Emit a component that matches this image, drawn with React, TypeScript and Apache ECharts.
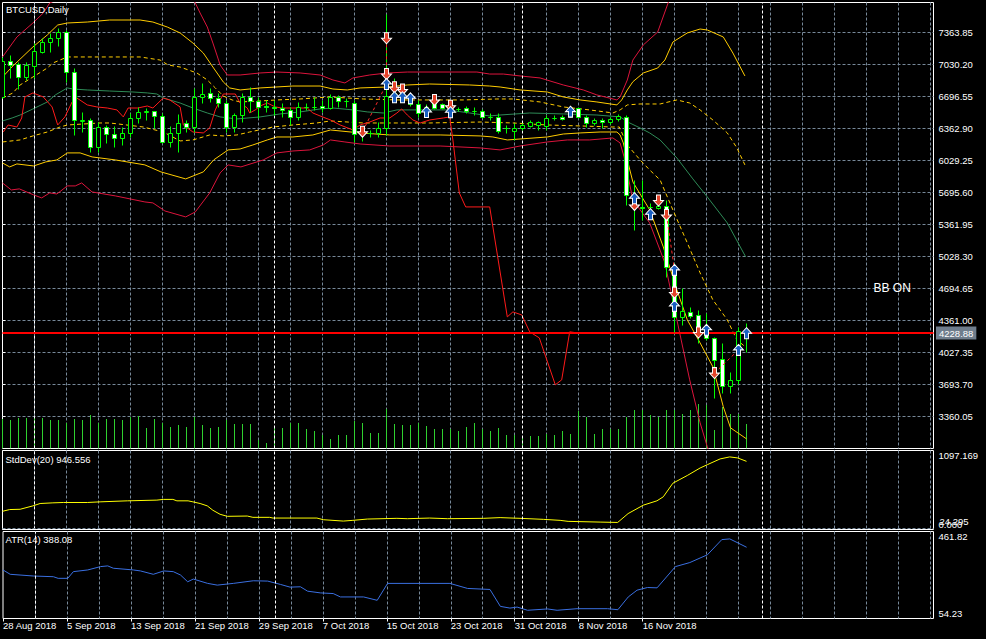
import React, { useEffect, useRef } from 'react';
import * as echarts from 'echarts';

const FONT = "'Liberation Sans', Arial, Helvetica, sans-serif";

// ---- price axis (ticks 3360.05 ... 7363.85, step 333.65; ticks are counted from min) ----
const PRICE_STEP = 333.65;
const PRICE_MIN = 3026.4;
const PRICE_MAX = 7674.5;
const X_MAX = 931 / 8; // days visible across the plot width
const VOL_MAX = 44600;
const STD_MAX = 1097.169;
const ATR_MIN = 54.23;
const ATR_MAX = 461.82;
const STD_LEVEL = 24.295;
const STD_LEVEL_LABEL_AT = 115; // where the level's text sits, just above its line
const LAST_PRICE = 4228.88;

// ---- x axis ----
const DATE_LABELS = ['28 Aug 2018', '5 Sep 2018', '13 Sep 2018', '21 Sep 2018', '29 Sep 2018', '7 Oct 2018',
  '15 Oct 2018', '23 Oct 2018', '31 Oct 2018', '8 Nov 2018', '16 Nov 2018', '24 Nov 2018'];
const LABEL_DAYS = DATE_LABELS.map((_, k) => k * 8);
const MONTH_STARTS = [4, 34, 65, 95];

// ---- daily candles, 28 Aug 2018 (index 0) .. 29 Nov 2018 (index 93) ----
const OPEN = [6690, 7065, 7034, 6898, 7013, 7159, 7263, 7305, 7367, 6950,
  6440, 6455, 6169, 6377, 6304, 6263, 6315, 6471, 6534, 6540,
  6492, 6221, 6315, 6419, 6377, 6690, 6731, 6679, 6627, 6377,
  6502, 6690, 6648, 6596, 6590, 6575, 6555, 6482, 6586, 6590,
  6596, 6575, 6690, 6648, 6627, 6304, 6310, 6315, 6367, 6700,
  6735, 6690, 6617, 6586, 6627, 6617, 6565, 6565, 6575, 6544,
  6544, 6482, 6482, 6367, 6336, 6367, 6388, 6395, 6388, 6471,
  6482, 6523, 6575, 6482, 6419, 6450, 6430, 6461, 6482, 5669,
  5545, 5540, 5533, 5554, 4919, 4398, 4450, 4419, 4283, 4179,
  3960, 3679, 3742, 4235];
const HIGH = [7110, 7127, 7055, 7055, 7252, 7305, 7356, 7409, 7388, 6992,
  6534, 6471, 6430, 6398, 6388, 6377, 6523, 6586, 6575, 6545,
  6523, 6388, 6513, 6450, 6784, 6836, 6784, 6731, 6659, 6523,
  6731, 6794, 6690, 6659, 6659, 6627, 6586, 6638, 6627, 6690,
  6659, 6720, 6711, 6680, 6659, 6340, 6346, 6430, 7554, 6888,
  6790, 6710, 6659, 6617, 6648, 6630, 6590, 6590, 6600, 6586,
  6560, 6523, 6523, 6398, 6419, 6419, 6450, 6440, 6502, 6500,
  6500, 6575, 6586, 6502, 6470, 6471, 6480, 6510, 6500, 5825,
  5825, 5585, 5570, 5617, 4961, 4700, 4502, 4471, 4440, 4190,
  4127, 3825, 4294, 4335];
const LOW = [6680, 6888, 6770, 6867, 6888, 7150, 7159, 7221, 6846, 6294,
  6325, 6117, 6117, 6211, 6169, 6190, 6273, 6419, 6450, 6367,
  6210, 6169, 6117, 6325, 6325, 6627, 6638, 6586, 6325, 6325,
  6429, 6534, 6471, 6534, 6502, 6482, 6398, 6450, 6555, 6555,
  6534, 6560, 6586, 6586, 6221, 6230, 6273, 6273, 6294, 6659,
  6640, 6600, 6482, 6502, 6560, 6560, 6545, 6540, 6520, 6502,
  6470, 6450, 6315, 6315, 6242, 6346, 6377, 6350, 6346, 6450,
  6450, 6482, 6471, 6377, 6400, 6367, 6410, 6440, 5565, 5304,
  5408, 5480, 5520, 4815, 4242, 4315, 4390, 4127, 4158, 3554,
  3606, 3606, 3700, 4033];
const CLOSE = [7065, 7023, 6898, 7023, 7169, 7263, 7305, 7367, 6950, 6450,
  6446, 6169, 6377, 6304, 6263, 6315, 6471, 6534, 6540, 6492,
  6221, 6315, 6419, 6377, 6690, 6721, 6679, 6627, 6377, 6502,
  6690, 6648, 6586, 6586, 6575, 6555, 6482, 6586, 6590, 6586,
  6575, 6690, 6648, 6645, 6304, 6310, 6315, 6367, 6700, 6735,
  6659, 6617, 6523, 6590, 6575, 6575, 6565, 6560, 6544, 6540,
  6482, 6480, 6336, 6365, 6367, 6398, 6430, 6430, 6471, 6475,
  6461, 6520, 6482, 6419, 6450, 6430, 6461, 6492, 5669, 5600,
  5535, 5545, 5554, 4919, 4398, 4461, 4409, 4210, 4179, 3950,
  3679, 3742, 4252, 4228.88];
const VOLUME = [3000, 2850, 3100, 3100, 3250, 3100, 2850, 2850, 2600, 3000,
  2850, 3400, 2600, 3000, 2950, 2850, 3200, 3250, 2100, 2950,
  2600, 2200, 2350, 2200, 3200, 2350, 2100, 2200, 2850, 2500,
  2500, 2500, 850, 600, 2200, 2100, 2600, 2600, 1950, 1750,
  1400, 950, 1400, 1400, 2750, 2600, 1600, 1600, 4000, 2500,
  2400, 2400, 2600, 2250, 1950, 1950, 1950, 1750, 2200, 2600,
  1950, 1750, 2100, 1400, 1400, 1200, 1300, 1300, 1500, 1350,
  1750, 1500, 3750, 3200, 1500, 2000, 2000, 2000, 3200, 3850,
  3850, 3400, 3200, 3850, 3850, 3500, 3850, 4500, 4400, 1850,
  4200, 3500, 3500, 2500];

// ---- indicator lines: [day, value] ----
const BB_MID = [[0, 6440], [1.2, 6471], [2.2, 6502], [3.8, 6565], [5.6, 6638], [6.6, 6711], [8.1, 6784], [8.8, 6773], [10.6, 6763], [13.4, 6752], [16.3, 6742], [18.1, 6732], [19.3, 6721], [20.1, 6679], [22.2, 6627], [23.8, 6575], [25.6, 6523], [27.2, 6482], [29.3, 6461], [32.2, 6482], [34.7, 6513], [37.2, 6534], [39.7, 6565], [41.3, 6575], [43.8, 6555], [45.6, 6534], [47.6, 6523], [49.3, 6555], [52.2, 6555], [55.6, 6555], [58.4, 6523], [60.9, 6492], [62.2, 6502], [65.9, 6523], [70.1, 6513], [74.3, 6502], [77.2, 6482], [78.4, 6419], [79.7, 6367], [80.9, 6315], [82.2, 6242], [84.3, 6054], [86.3, 5836], [88.1, 5648], [90.6, 5377], [92.9, 5023]];
const BB2_UP = [[0, 6898], [1.3, 7013], [3.8, 7211], [5.6, 7336], [6.9, 7440], [8.1, 7461], [10.6, 7471], [13.4, 7492], [17.2, 7492], [18.8, 7471], [20.6, 7419], [22.2, 7357], [23.8, 7252], [25.1, 7148], [26.3, 7002], [27.6, 6846], [28.4, 6784], [29.7, 6763], [32.2, 6784], [36.3, 6804], [39.7, 6804], [41.3, 6773], [43.1, 6763], [44.7, 6784], [48.1, 6794], [50.6, 6815], [53.4, 6825], [58.4, 6815], [60.9, 6804], [62.2, 6794], [64.7, 6763], [68.1, 6742], [70.1, 6690], [72.2, 6659], [74.3, 6638], [76.8, 6607], [77.4, 6659], [78.1, 6763], [78.8, 6849], [80.1, 6940], [81.9, 6992], [82.8, 7075], [83.8, 7263], [85.6, 7357], [87.2, 7398], [88.1, 7388], [90.1, 7315], [91.3, 7148], [92.8, 6909]];
const BB2_DN = [[0, 6002], [0.9, 5961], [1.8, 5992], [3.9, 5971], [5.4, 6013], [6.8, 6034], [8.1, 6107], [9.7, 6107], [11.2, 6065], [14.1, 6034], [17.8, 5982], [19.8, 5909], [22.9, 5836], [25.1, 5909], [26.4, 6034], [28.2, 6138], [29.7, 6148], [31.3, 6190], [33.1, 6242], [34.3, 6273], [36.3, 6273], [38.8, 6294], [41, 6346], [44.7, 6315], [48.4, 6294], [54.7, 6294], [59.7, 6284], [61.3, 6273], [63.1, 6242], [64.7, 6252], [68.1, 6273], [70.1, 6304], [72.2, 6315], [74.7, 6325], [76.8, 6325], [77.2, 6294], [77.6, 6211], [78.1, 6034], [78.8, 5804], [80.9, 5513], [82.6, 5127], [84.3, 4679], [85.6, 4367], [87.2, 4127], [88.8, 3877], [90.1, 3461], [91, 3242], [93, 3127]];
const BB1_UP = [[0, 6679], [1.3, 6732], [2.2, 6815], [3.8, 6898], [5.6, 6992], [6.3, 7044], [8.1, 7107], [10.6, 7107], [13.4, 7107], [17.2, 7107], [19.7, 7075], [20.7, 7023], [22.2, 7002], [24.3, 6940], [25.6, 6867], [26.6, 6784], [27.6, 6700], [28.7, 6659], [29.7, 6638], [32.2, 6648], [34.3, 6659], [37.2, 6669], [41, 6690], [45.1, 6669], [49.3, 6659], [57.6, 6659], [61.8, 6669], [63.8, 6669], [67.2, 6638], [70.1, 6586], [73.4, 6555], [76.3, 6523], [77.2, 6555], [78.1, 6607], [79.7, 6617], [82.2, 6617], [84.3, 6659], [85.9, 6627], [87.2, 6555], [88.8, 6450], [90.6, 6315], [91.8, 6159], [92.8, 5982]];
const BB1_DN = [[0, 6221], [2.2, 6242], [3.8, 6284], [5.6, 6325], [7.2, 6377], [8.1, 6398], [12.2, 6419], [13.4, 6419], [17.6, 6377], [20.1, 6325], [22.2, 6232], [23.8, 6242], [25.9, 6294], [27.6, 6284], [29.3, 6294], [30.9, 6325], [33.8, 6377], [36.3, 6398], [39.3, 6419], [41, 6440], [45.1, 6419], [49.3, 6419], [53.4, 6419], [59.7, 6429], [63.8, 6419], [68.1, 6398], [72.2, 6388], [76.3, 6377], [77.1, 6377], [78.1, 6190], [79.7, 6034], [80.9, 5929], [82.2, 5825], [83.8, 5513], [85.6, 5169], [87.2, 4857], [88.8, 4575], [90.6, 4367], [91.8, 4159], [93, 4075]];
const BB3_UP = [[0, 7107], [1.8, 7315], [3.8, 7461], [5.1, 7565], [5.9, 7669], [12.2, 7910], [18.4, 7930], [23.4, 7750], [24.1, 7669], [24.7, 7565], [25.6, 7419], [26.3, 7252], [26.8, 7127], [27.2, 7023], [28.1, 6919], [29.7, 6919], [32.2, 6940], [34.3, 6950], [37.2, 6940], [39.7, 6919], [41.3, 6867], [42.8, 6836], [43.8, 6888], [45.9, 6919], [48.1, 6940], [50.6, 6950], [59.3, 6950], [60.9, 6929], [62.6, 6929], [64.7, 6909], [67.2, 6888], [70.1, 6815], [72.6, 6763], [74.3, 6711], [76.8, 6659], [77.2, 6690], [78.1, 6867], [78.8, 7075], [80.1, 7232], [81.9, 7367], [83.2, 7669], [84.7, 8013], [89.7, 8325], [92.9, 8117]];
const BB3_DN = [[0, 5794], [1.1, 5721], [2.1, 5732], [3.9, 5669], [4.9, 5638], [5.9, 5690], [6.8, 5679], [8.1, 5763], [9.1, 5763], [9.9, 5794], [11.2, 5700], [14.1, 5659], [17.8, 5596], [18.8, 5586], [20.3, 5502], [22.9, 5440], [24.1, 5492], [25.9, 5690], [27.2, 5898], [28.2, 5982], [29.8, 5961], [32.6, 6034], [34.3, 6107], [36.3, 6127], [38.4, 6138], [40.1, 6190], [41, 6242], [42.8, 6221], [44.7, 6200], [48.4, 6179], [54.7, 6179], [59.7, 6159], [62.2, 6138], [64.7, 6179], [68.1, 6221], [70.6, 6242], [73.4, 6242], [76.3, 6263], [77.2, 6211], [77.7, 6065], [78.8, 5617], [80.9, 5377], [82.8, 4961], [84.3, 4367], [85.9, 3742], [87.2, 3294], [88.1, 3044], [89.7, 2700], [92.9, 2183]];
const RED_LINE = [[0.1, 6325], [0.7, 6398], [1.8, 6377], [2.4, 6471], [2.8, 6690], [3.8, 6732], [5.1, 6690], [6.2, 6586], [6.9, 6398], [7.8, 6482], [8.7, 6638], [9.3, 6679], [10.6, 6607], [11.8, 6586], [13.1, 6575], [14.3, 6555], [15.1, 6482], [15.7, 6575], [16.9, 6575], [18.1, 6596], [18.8, 6575], [20.1, 6679], [20.9, 6659], [22.2, 6586], [22.6, 6398], [23.8, 6325], [25.1, 6315], [25.9, 6367], [26.6, 6555], [27.2, 6659], [27.6, 6721], [29.1, 6721], [29.7, 6627], [30.6, 6575], [30.9, 6523], [31.6, 6555], [32.2, 6596], [33.1, 6627], [34.1, 6586], [34.9, 6575], [36.3, 6575], [38.1, 6575], [38.8, 6523], [39.7, 6492], [41, 6450], [42.2, 6398], [43.8, 6346], [44.7, 6398], [45.9, 6429], [47.2, 6471], [48.4, 6471], [49.3, 6523], [49.9, 6565], [50.6, 6502], [51.3, 6450], [52.2, 6419], [53.4, 6450], [55.1, 6471], [55.9, 6482], [56.3, 6242], [56.6, 6034], [57.1, 5690], [57.9, 5544], [60.9, 5544], [63.1, 4398], [63.8, 4450], [64.9, 4419], [65.9, 4242], [67.1, 4179], [69.1, 3690], [69.9, 3742], [70.9, 4242], [71.9, 4231]];
const STDDEV = [[0, 253], [0.9, 277], [2.2, 281], [3.8, 328], [4.7, 361], [6.3, 370], [7.6, 375], [10.6, 375], [12.2, 384], [15.6, 398], [19.3, 408], [20.1, 418], [21.3, 418], [21.8, 398], [23.2, 398], [23.8, 384], [24.7, 361], [25.6, 328], [26.3, 267], [27.2, 211], [28.1, 183], [30.6, 187], [31.3, 169], [33.4, 169], [33.8, 159], [39.3, 159], [40.1, 136], [42.6, 117], [43.8, 127], [45.6, 145], [49.3, 155], [50.6, 150], [53.4, 159], [55.6, 150], [60.1, 155], [62.2, 165], [64.7, 155], [67.6, 141], [69.7, 127], [70.7, 113], [74.7, 103], [76.9, 98], [78.2, 221], [80.1, 338], [81.8, 398], [82.6, 454], [83.8, 643], [85.6, 750], [87.2, 854], [88.1, 900], [89.7, 980], [90.9, 1008], [91.9, 994], [93, 946.556]];
const ATR = [[0, 281.7], [0.9, 261.3], [3.8, 253.3], [6.3, 250], [6.9, 242.4], [8.1, 242.4], [8.8, 273.7], [10.6, 281.7], [12.2, 297.4], [13.1, 300.7], [13.8, 289.7], [16.3, 281.7], [17.2, 277], [18.8, 261.3], [20.1, 277], [21.3, 273.7], [22.2, 258], [23.1, 226.3], [23.8, 239], [25.6, 218.7], [26.8, 210.6], [28.8, 218.7], [31.3, 231], [33.1, 229.5], [34.7, 213.9], [35.9, 201.2], [37.2, 202.8], [38.1, 182.2], [39.7, 174.2], [41.3, 171.1], [42.2, 155.2], [45.1, 155.2], [46.8, 139.5], [48.1, 218.7], [55.9, 218.7], [58.1, 195], [60.9, 190.3], [62.2, 111.1], [63.4, 103], [64.3, 107.8], [65.6, 92.8], [68.1, 99], [69.3, 92.8], [71.8, 100.2], [75.6, 100.2], [76.9, 95.4], [78.2, 155.2], [79.3, 186.9], [80.6, 199.4], [81.8, 197.8], [84.1, 297.4], [85.9, 316.3], [88.1, 352.8], [89.9, 423.9], [90.9, 427.1], [93, 388.08]];

// ---- trade markers [day, price] ----
const SELLS = [[48, 7301], [48, 6929], [49, 6791], [50, 6768], [54, 6659], [56, 6599], [45, 6328], [79, 5565], [82, 5610], [83, 5460], [84, 4651], [87, 4235], [89, 3812]];
const BUYS = [[48, 6825], [49, 6687], [50, 6687], [51, 6676], [53, 6534], [56, 6531], [71, 6537], [79, 5635], [81, 5468], [84, 4888], [84, 4513], [88, 4263], [92, 4054], [93, 4228]];
const TRADE_LINES = [[45, 6328, 48, 6825], [48, 7301, 48, 6929], [83, 5460, 84, 4888], [89, 3812, 92, 4054]];

const GRID_COLOR = '#778899';

function buildOption(): any {
  const gridSplit = { show: true, showMinLine: false, showMaxLine: false, lineStyle: { color: GRID_COLOR, type: [3, 2], width: 1 } };
  const xBase = (gridIndex: number) => ({
    type: 'value', gridIndex, min: 0, max: X_MAX, interval: 4,
    axisLine: { show: false }, axisTick: { show: false }, axisLabel: { show: false },
    splitLine: gridSplit,
  });
  const tickStyle = { show: true, length: 3, lineStyle: { color: '#ffffff', width: 1 } };
  const labelBase = { color: '#ffffff', fontSize: 9.5, fontFamily: FONT, margin: 5 };
  const monthLines = MONTH_STARTS.map((d) => ({ xAxis: d }));
  const lineSeries = (name: string, data: number[][], color: string, dashed: boolean, extra: any = {}) => ({
    name, type: 'line', xAxisIndex: 0, yAxisIndex: 0, data, showSymbol: false, symbol: 'none',
    silent: true, z: 3, clip: true,
    lineStyle: { color, width: 1, type: dashed ? [4, 3] : 'solid' },
    ...extra,
  });
  const txt = (text: string, left: number, top: number, size = 9.5) => ({
    text, left, top, padding: 0,
    textStyle: { color: '#ffffff', fontSize: size, fontWeight: 'normal', fontFamily: FONT },
  });

  return {
    animation: false,
    backgroundColor: '#000000',
    textStyle: { fontFamily: FONT },
    title: [
      txt('BTCUSD,Daily', 6, 4),
      txt('StdDev(20) 946.556', 5.5, 454),
      txt('ATR(14) 388.08', 5.5, 534.5),
      txt('BB ON', 873.5, 281.5, 12),
    ],
    grid: [
      { left: 2.5, top: 2.5, width: 931, height: 446, show: true, borderColor: '#ffffff', borderWidth: 1, backgroundColor: 'transparent' },
      { left: 2.5, top: 450.5, width: 931, height: 79, show: true, borderColor: '#ffffff', borderWidth: 1, backgroundColor: 'transparent' },
      { left: 2.5, top: 531.5, width: 931, height: 87, show: true, borderColor: '#ffffff', borderWidth: 1, backgroundColor: 'transparent' },
    ],
    xAxis: [
      xBase(0), xBase(1), xBase(2),
      {
        type: 'value', gridIndex: 2, position: 'bottom', min: 0, max: X_MAX, interval: 8,
        axisLine: { show: false },
        axisTick: { ...tickStyle, customValues: LABEL_DAYS },
        splitLine: { show: false },
        axisLabel: {
          ...labelBase, margin: 2, align: 'left', showMaxLabel: false, customValues: LABEL_DAYS,
          formatter: (v: number) => {
            const k = Math.round(v / 8);
            return Math.abs(v - k * 8) < 1e-6 && k < DATE_LABELS.length ? DATE_LABELS[k] : '';
          },
        },
      },
    ],
    yAxis: [
      {
        type: 'value', gridIndex: 0, position: 'right',
        min: PRICE_MIN, max: PRICE_MAX, interval: PRICE_STEP,
        axisLine: { show: false }, axisTick: tickStyle,
        axisLabel: { ...labelBase, showMinLabel: false, showMaxLabel: false, formatter: (v: number) => v.toFixed(2) },
        splitLine: gridSplit,
      },
      { type: 'value', gridIndex: 0, show: false, min: 0, max: VOL_MAX, splitLine: { show: false } },
      {
        type: 'value', gridIndex: 1, position: 'right', min: 0, max: STD_MAX, interval: 1e6,
        axisLine: { show: false }, axisTick: tickStyle,
        axisLabel: { ...labelBase, verticalAlignMaxLabel: 'top', verticalAlignMinLabel: 'bottom', formatter: (v: number) => v.toFixed(3) },
        splitLine: { show: false },
      },
      {
        type: 'value', gridIndex: 2, position: 'right', min: ATR_MIN, max: ATR_MAX, interval: 1e6,
        axisLine: { show: false }, axisTick: tickStyle,
        axisLabel: { ...labelBase, verticalAlignMaxLabel: 'top', verticalAlignMinLabel: 'bottom', formatter: (v: number) => v.toFixed(2) },
        splitLine: { show: false },
      },
    ],
    series: [
      {
        name: 'Volumes', type: 'custom', xAxisIndex: 0, yAxisIndex: 1, z: 2, silent: true, clip: true,
        data: VOLUME.map((v, i) => [i, v]),
        encode: { x: 0, y: 1 },
        renderItem: (params: any, api: any) => {
          const i = api.value(0);
          const p0 = api.coord([i, 0]);
          const p1 = api.coord([i, api.value(1)]);
          const cx = Math.floor(p0[0]) + 0.5;
          return { type: 'line', shape: { x1: cx, y1: p0[1], x2: cx, y2: Math.round(p1[1]) }, style: { stroke: '#2fd12f', lineWidth: 1 } };
        },
      },
      lineSeries('BB middle', BB_MID, '#2e8b57', false, {
        z: 3,
        markLine: {
          silent: true, symbol: ['none', 'none'], animation: false, label: { show: false },
          lineStyle: { color: '#ffffff', type: [3, 2], width: 1 }, data: monthLines,
        },
      }),
      lineSeries('BB up 2', BB2_UP, '#ffcc00', false),
      lineSeries('BB dn 2', BB2_DN, '#ffcc00', false),
      lineSeries('BB up 1', BB1_UP, '#ffcc00', true),
      lineSeries('BB dn 1', BB1_DN, '#ffcc00', true),
      lineSeries('BB up 3', BB3_UP, '#dc143c', false),
      lineSeries('BB dn 3', BB3_DN, '#dc143c', false),
      lineSeries('Red line', RED_LINE, '#ff1a1a', false, { z: 4 }),
      {
        name: 'BTCUSD', type: 'custom', xAxisIndex: 0, yAxisIndex: 0, z: 5, silent: true, clip: true,
        data: OPEN.map((o, i) => [i, o, HIGH[i], LOW[i], CLOSE[i]]),
        encode: { x: 0, y: [1, 2, 3, 4] },
        renderItem: (params: any, api: any) => {
          const i = api.value(0);
          const o = api.value(1), h = api.value(2), l = api.value(3), c = api.value(4);
          const pO = api.coord([i, o]);
          const pC = api.coord([i, c]);
          const pH = api.coord([i, h]);
          const pL = api.coord([i, l]);
          const cx = Math.floor(pO[0]) + 0.5;
          const top = Math.round(Math.min(pO[1], pC[1])) + 0.5;
          const bot = Math.round(Math.max(pO[1], pC[1])) + 0.5;
          const bear = c < o;
          return {
            type: 'group',
            children: [
              { type: 'line', shape: { x1: cx, y1: Math.round(pH[1]) + 0.5, x2: cx, y2: Math.round(pL[1]) + 0.5 }, style: { stroke: '#00ff00', lineWidth: 1 } },
              { type: 'rect', shape: { x: cx - 2, y: top, width: 4, height: bot - top }, style: { fill: bear ? '#ffffff' : '#000000', stroke: '#00ff00', lineWidth: 1 } },
            ],
          };
        },
        markLine: {
          silent: true, symbol: ['none', 'none'], animation: false,
          data: [{
            yAxis: LAST_PRICE,
            lineStyle: { color: '#ff0000', width: 2, type: 'solid' },
            label: {
              show: true, position: 'end', distance: 2.5, formatter: LAST_PRICE.toFixed(2),
              color: '#ffffff', backgroundColor: '#6f7d8c', padding: [2, 3, 1, 3], fontSize: 9.5, fontFamily: FONT,
            },
          }],
        },
      },
      {
        name: 'Trade lines', type: 'custom', xAxisIndex: 0, yAxisIndex: 0, z: 6, silent: true, clip: true,
        data: TRADE_LINES,
        encode: { x: [0, 2], y: [1, 3] },
        renderItem: (params: any, api: any) => {
          const p1 = api.coord([api.value(0), api.value(1)]);
          const p2 = api.coord([api.value(2), api.value(3)]);
          return { type: 'line', shape: { x1: p1[0], y1: p1[1], x2: p2[0], y2: p2[1] }, style: { stroke: '#ff2a2a', lineWidth: 1, lineDash: [3, 3] } };
        },
      },
      {
        name: 'Sell', type: 'scatter', xAxisIndex: 0, yAxisIndex: 0, z: 7, silent: true,
        data: SELLS,
        symbol: 'path://M3,0L7,0L7,5L10,5L5,10L0,5L3,5Z', symbolSize: [10, 11],
        itemStyle: { color: '#e4432a', borderColor: '#ffffff', borderWidth: 1, opacity: 1 },
      },
      {
        name: 'Buy', type: 'scatter', xAxisIndex: 0, yAxisIndex: 0, z: 7, silent: true,
        data: BUYS,
        symbol: 'path://M5,0L10,5L7,5L7,10L3,10L3,5L0,5Z', symbolSize: [10, 11],
        itemStyle: { color: '#1a5fc2', borderColor: '#ffffff', borderWidth: 1, opacity: 1 },
      },
      {
        name: 'StdDev(20)', type: 'line', xAxisIndex: 1, yAxisIndex: 2, data: STDDEV, showSymbol: false, symbol: 'none',
        silent: true, z: 3, lineStyle: { color: '#ffff00', width: 1 },
        markLine: {
          silent: true, symbol: ['none', 'none'], animation: false, label: { show: false },
          lineStyle: { color: '#ffffff', type: [3, 2], width: 1 },
          data: [
            ...monthLines,
            { yAxis: STD_LEVEL, lineStyle: { color: GRID_COLOR, type: [3, 2], width: 1 } },
            {
              yAxis: STD_LEVEL_LABEL_AT,
              lineStyle: { color: 'rgba(0,0,0,0)', width: 0 },
              label: {
                show: true, position: 'end', distance: 6, formatter: STD_LEVEL.toFixed(3), color: '#ffffff',
                fontSize: 9.5, fontFamily: FONT,
              },
            },
          ],
        },
      },
      {
        name: 'ATR(14)', type: 'line', xAxisIndex: 2, yAxisIndex: 3, data: ATR, showSymbol: false, symbol: 'none',
        silent: true, z: 3, lineStyle: { color: '#3a6fe0', width: 1 },
        markLine: {
          silent: true, symbol: ['none', 'none'], animation: false, label: { show: false },
          lineStyle: { color: '#ffffff', type: [3, 2], width: 1 }, data: monthLines,
        },
      },
    ],
  };
}

export default function App() {
  const ref = useRef<HTMLDivElement>(null);
  useEffect(() => {
    if (!ref.current) return;
    const chart = echarts.init(ref.current, null, { renderer: 'svg' });
    chart.setOption(buildOption());
    return () => chart.dispose();
  }, []);
  return (
    <div
      ref={ref}
      style={{ position: 'fixed', left: 0, top: 0, width: 986, height: 639, background: '#000000' }}
    />
  );
}
